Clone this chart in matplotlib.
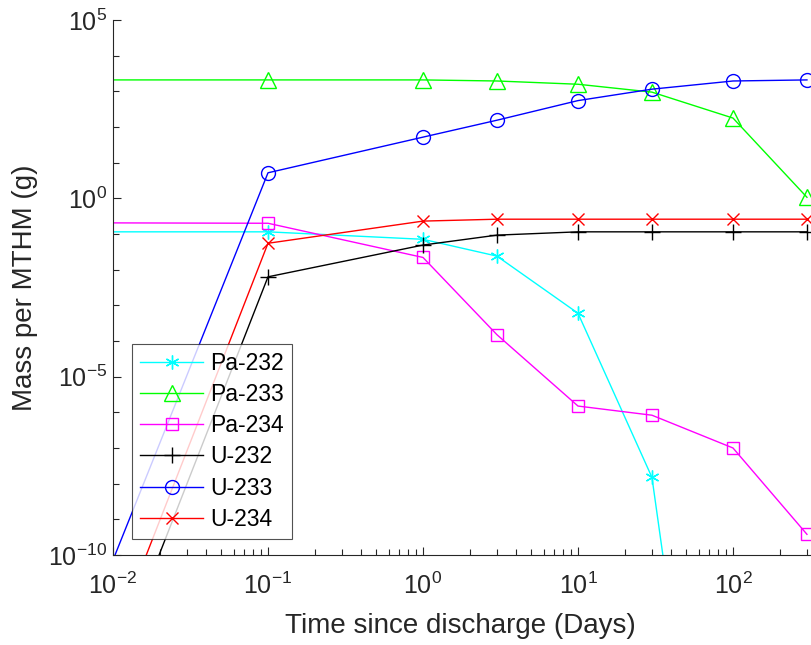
import matplotlib
matplotlib.use('Agg')
import matplotlib.pyplot as plt
from matplotlib.ticker import LogLocator, FixedLocator, NullFormatter

plt.rcParams['font.family'] = ['Liberation Sans', 'DejaVu Sans']
plt.rcParams['mathtext.fontset'] = 'custom'
plt.rcParams['mathtext.rm'] = 'Liberation Sans'
plt.rcParams['mathtext.it'] = 'Liberation Sans'

# time points (days); first point lies left of the visible axis
time = [1e-3, 0.1, 1, 3, 10, 30, 100, 300]

pa232 = [0.115, 0.115, 0.071, 0.024, 6.0e-4, 1.5e-8, 1e-24, 1e-40]
pa233 = [2090, 2090, 2090, 1950, 1580, 950, 178, 1.07]
pa234 = [0.21, 0.20, 0.022, 1.5e-4, 1.5e-6, 8.3e-7, 1.0e-7, 3.8e-10]
u232 = [4e-25, 6.3e-3, 0.049, 0.093, 0.115, 0.115, 0.115, 0.115]
u233 = [1e-21, 5.2, 52, 155, 550, 1150, 1950, 2090]
u234 = [3e-24, 0.055, 0.23, 0.26, 0.26, 0.26, 0.26, 0.26]

labels = ['Pa-232', 'Pa-233', 'Pa-234', 'U-232', 'U-233', 'U-234']
series = [pa232, pa233, pa234, u232, u233, u234]
colors = ['#00FFFF', '#00FF00', '#FF00FF', '#000000', '#0000FF', '#FF0000']
markers = [(6, 2, 0), '^', 's', '+', 'o', 'x']
msizes = [10, 11, 9, 12, 10, 9]

ytick_labels = [r'$\mathregular{10^{-10}}$', r'$\mathregular{10^{-5}}$',
                r'$\mathregular{10^{0}}$', r'$\mathregular{10^{5}}$']
xtick_labels = [r'$\mathregular{10^{-2}}$', r'$\mathregular{10^{-1}}$',
                r'$\mathregular{10^{0}}$', r'$\mathregular{10^{1}}$',
                r'$\mathregular{10^{2}}$']

fig = plt.figure(figsize=(8.12, 6.45), dpi=100)
# axes extends past the right edge of the picture (cropped like the reference)
ax = fig.add_axes([113 / 812, 90 / 645, 775 / 812, 535 / 645])

for y, lab, c, m, ms in zip(series, labels, colors, markers, msizes):
    ax.plot(time, y, color=c, marker=m, markersize=ms, markerfacecolor='none',
            markeredgewidth=1.0, linewidth=1.0, label=lab)

ax.set_xscale('log')
ax.set_yscale('log')
ax.set_xlim(1e-2, 1e3)
ax.set_ylim(1e-10, 1e5)

ax.yaxis.set_major_locator(FixedLocator([1e-10, 1e-5, 1e0, 1e5]))
ax.yaxis.set_minor_locator(FixedLocator([10.0 ** k for k in range(-10, 6)]))
ax.yaxis.set_minor_formatter(NullFormatter())
ax.set_yticklabels(ytick_labels)
ax.set_xticks([1e-2, 1e-1, 1e0, 1e1, 1e2])
ax.set_xticklabels(xtick_labels)
ax.xaxis.set_minor_locator(LogLocator(base=10, subs=range(2, 10), numticks=20))
ax.xaxis.set_minor_formatter(NullFormatter())

for s in ['top', 'right']:
    ax.spines[s].set_visible(False)
for s in ['left', 'bottom']:
    ax.spines[s].set_color('#262626')
    ax.spines[s].set_linewidth(0.8)

ax.tick_params(which='both', direction='in', colors='#262626', labelsize=18,
               labelcolor='#262626')
ax.tick_params(which='major', length=6, width=0.8)
ax.tick_params(which='minor', length=4, width=0.8)
ax.tick_params(axis='y', which='major', pad=4)
ax.tick_params(axis='x', which='major', pad=13)

ax.set_xlabel('Time since discharge (Days)', fontsize=20, color='#262626')
ax.set_ylabel('Mass per MTHM (g)', fontsize=20, color='#262626')
ax.xaxis.set_label_coords((460 - 113) / 775, -0.108)
ax.yaxis.set_label_coords(-0.097, 0.5)

leg = ax.legend(loc='lower left', bbox_to_anchor=(19 / 775, 16 / 535), fontsize=16.5,
                frameon=True, fancybox=False, edgecolor='#262626', handlelength=2.75,
                labelspacing=0.36, borderpad=0.35, handletextpad=0.3, borderaxespad=0)
leg.get_frame().set_linewidth(0.8)
for t in leg.get_texts():
    t.set_color('#000000')

fig.savefig('out.png', dpi=100)
